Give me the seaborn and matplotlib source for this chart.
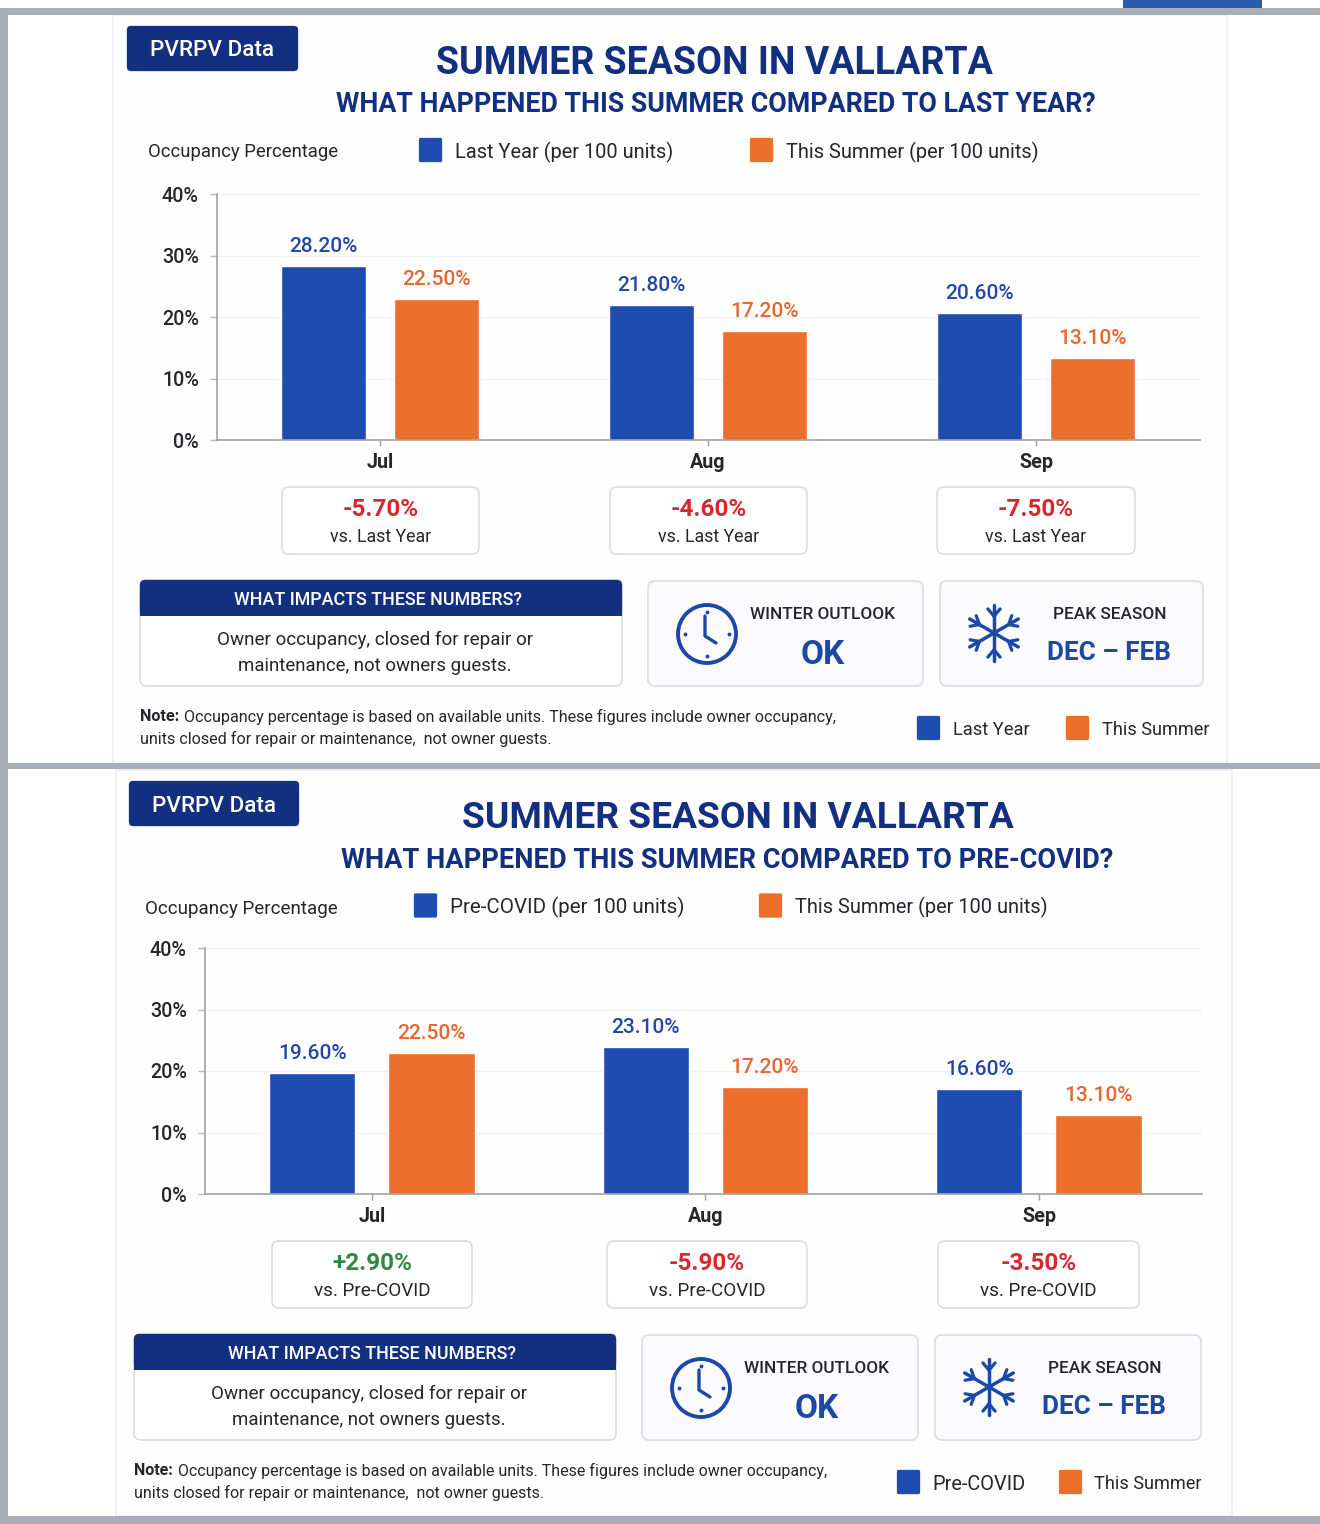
import matplotlib
matplotlib.use("Agg")
import matplotlib.pyplot as plt
from matplotlib.patches import Rectangle, FancyBboxPatch, Circle
import numpy as np
import pandas as pd
import seaborn as sns

months = ["Jul", "Aug", "Sep"]
# printed values
last_year = [28.2, 21.8, 20.6]
pre_covid = [19.6, 23.1, 16.6]
this_summer = [22.5, 17.2, 13.1]
# bar heights as drawn in the picture (the source's bars sit a little off its own labels)
last_year_bars = [28.3, 22.0, 20.65]
summer_bars_top = [22.9, 17.7, 13.3]
pre_covid_bars = [19.7, 23.9, 17.05]
summer_bars_bottom = [22.9, 17.4, 12.85]
deltas_last_year = ["-5.70%", "-4.60%", "-7.50%"]
deltas_pre_covid = ["+2.90%", "-5.90%", "-3.50%"]
y_ticks = [0, 10, 20, 30, 40]

TITLE = "SUMMER SEASON IN VALLARTA"
IMPACT_HEAD = "WHAT IMPACTS THESE NUMBERS?"
IMPACT_1 = "Owner occupancy, closed for repair or"
IMPACT_2 = "maintenance, not owners guests."
NOTE_1 = "Occupancy percentage is based on available units. These figures include owner occupancy,"
NOTE_2 = "units closed for repair or maintenance,  not owner guests."

BLUE = "#1f4cb0"
ORANGE = "#ec6e2b"
NAVY = "#12307f"
LBL_BLUE = "#2446a8"
LBL_ORANGE = "#e8662c"
RED = "#d8282e"
GREEN = "#2f8a3e"
DARK = "#24262b"
ICON = "#1c48a8"
GREY = "#a9aeb8"
EDGE = "#dcdfe5"
FONT = "Roboto"

W, H = 1320, 1524
sns.set_theme(style="white")
plt.rcParams["font.family"] = [FONT, "DejaVu Sans"]
fig = plt.figure(figsize=(W / 100, H / 100), dpi=100, facecolor="white")
bg = fig.add_axes([0, 0, 1, 1])
bg.set_xlim(0, W)
bg.set_ylim(H, 0)
bg.axis("off")


def txt(x, y, s, size, color=DARK, weight="normal", ha="center"):
    bg.text(x, y, s, fontsize=size, color=color, fontweight=weight, ha=ha, va="center_baseline", zorder=6)


def rbox(x0, y0, x1, y1, face="white", edge=EDGE, r=7, lw=1.3, z=2):
    bg.add_patch(FancyBboxPatch((x0 + r, y0 + r), x1 - x0 - 2 * r, y1 - y0 - 2 * r,
                                boxstyle=f"round,pad={r},rounding_size={r}", fc=face, ec=edge, lw=lw, zorder=z))


def clock(cx, cy, r):
    bg.add_patch(Circle((cx, cy), r, fc="none", ec=ICON, lw=2.8, zorder=5))
    for a in range(0, 360, 90):
        t = np.deg2rad(a)
        bg.plot([cx + (r - 7) * np.cos(t)], [cy + (r - 7) * np.sin(t)], "o", ms=1.8, color=ICON, zorder=5)
    bg.plot([cx - 2, cx - 2, cx + 9], [cy - 18, cy + 2, cy + 9], color=ICON, lw=2.4, zorder=5,
            solid_joinstyle="round", solid_capstyle="round")


def snowflake(cx, cy, r):
    for a in (90, 30, -30):
        t = np.deg2rad(a)
        dx, dy = np.cos(t), np.sin(t)
        bg.plot([cx - r * dx, cx + r * dx], [cy - r * dy, cy + r * dy], color=ICON, lw=2.5, zorder=5)
        for sign in (1, -1):
            bx, by = cx + sign * 0.6 * r * dx, cy + sign * 0.6 * r * dy
            for off in (40, -40):
                u = t + np.deg2rad(off)
                bg.plot([bx, bx + sign * 0.34 * r * np.cos(u)], [by, by + sign * 0.34 * r * np.sin(u)],
                        color=ICON, lw=2.3, zorder=5)


def panel(p, ref_name, ref_vals, ref_bars, summer_bars, deltas, sub):
    # card
    bg.add_patch(Rectangle((p["card"][0], p["card"][2]), p["card"][1] - p["card"][0], p["card"][3] - p["card"][2],
                           fc="#fefefe", ec="#eceef1", lw=1.1, zorder=1))
    # badge and headings
    bx = p["badge"]
    rbox(bx[0], bx[1], bx[2], bx[3], face=NAVY, edge=NAVY, r=4, lw=0.2)
    txt((bx[0] + bx[2]) / 2, (bx[1] + bx[3]) / 2, "PVRPV Data", 16.2, "white", "medium")
    txt(p["title"][0], p["title"][1], TITLE, p["title_size"], NAVY, "bold")
    txt(p["sub"][0], p["sub"][1], sub, p["sub_size"], NAVY, "bold")

    # top legend
    txt(p["occ"][0], p["occ"][1], "Occupancy Percentage", p["occ_size"], ha="left")
    for sx, lab, col, size in ((p["leg"][0], f"{ref_name} (per 100 units)", BLUE, p["leg_size"]),
                               (p["leg"][1], "This Summer (per 100 units)", ORANGE, 14.4)):
        rbox(sx, p["leg_y"] - 12, sx + 23, p["leg_y"] + 12, face=col, edge=col, r=1.5, lw=0.2, z=3)
        txt(sx + 36, p["leg_y"], lab, size, ha="left")

    # chart
    x0, x1, y0, y1 = p["axes"]
    ax = fig.add_axes([x0 / W, 1 - y1 / H, (x1 - x0) / W, (y1 - y0) / H], facecolor="none", zorder=3)
    df = pd.DataFrame({
        "month": months * 2,
        "series": [ref_name] * 3 + ["This Summer"] * 3,
        "value": list(ref_bars) + list(summer_bars),
    })
    sns.barplot(data=df, x="month", y="value", hue="series", hue_order=[ref_name, "This Summer"],
                palette=[BLUE, ORANGE], width=p["width"], gap=p["gap"], saturation=1, legend=False, ax=ax,
                errorbar=None)
    ax.set_ylim(0, 40)
    ax.set_xlim(*p["xlim"])
    ax.set_yticks(y_ticks)
    ax.set_yticklabels([f"{v}%" for v in y_ticks], fontsize=14.2, color=DARK, fontweight="medium",
                       va="center_baseline")
    ax.set_xticklabels(months, fontsize=14.2, color=DARK, fontweight="bold")
    ax.set_xlabel("")
    ax.set_ylabel("")
    ax.yaxis.grid(True, color="#eff0f2", lw=1)
    ax.xaxis.grid(False)
    ax.set_axisbelow(True)
    sns.despine(ax=ax)
    for s in ("left", "bottom"):
        ax.spines[s].set_color("#9ea2a8")
        ax.spines[s].set_linewidth(1.2)
    ax.tick_params(axis="y", length=5, width=1, color="#b5b8bd", pad=8, left=True)
    ax.tick_params(axis="x", length=4, width=1, color="#9ea2a8", pad=5, bottom=True)
    for cont, vals, col in zip(ax.containers, (ref_vals, this_summer), (LBL_BLUE, LBL_ORANGE)):
        ax.bar_label(cont, labels=[f"{v:.2f}%" for v in vals], padding=7, color=col, fontsize=15,
                     fontweight="medium")

    # delta boxes
    for m, d, (a, b) in zip(months, deltas, p["boxes"]):
        rbox(a, p["box_y"], b, p["box_y"] + 67)
        txt((a + b) / 2, p["box_y"] + 20.5, d, 17.5, GREEN if d.startswith("+") else RED, "bold")
        txt((a + b) / 2, p["box_y"] + 48, f"vs. {ref_name}", p["vs_size"])

    # impact
    a, b, t = p["impact"]
    rbox(a, t, b, t + 106)
    rbox(a, t, b, t + 35, face=NAVY, edge=NAVY, r=5, lw=0.2, z=3)
    bg.add_patch(Rectangle((a, t + 18), b - a, 17.5, fc=NAVY, ec="none", zorder=3))
    txt((a + b) / 2 - 3, t + 18, IMPACT_HEAD, 12.9, "white", "medium")
    txt((a + b) / 2 - 6, t + 58, IMPACT_1, 13.6)
    txt((a + b) / 2 - 6, t + 84, IMPACT_2, 13.4)

    # winter
    a, b, t = p["winter"]
    rbox(a, t, b, t + 105, face="#fbfbfe")
    clock(a + 59, t + 53, 29)
    txt(a + 175, t + 32, "WINTER OUTLOOK", 12.45, weight="medium")
    txt(a + 175, t + 70, "OK", 24, ICON, "bold")

    # peak
    a, b, t = p["peak"]
    rbox(a, t, b, t + 105, face="#fbfbfe")
    snowflake(a + 54, t + 52, 28)
    txt(a + 170, t + 32, "PEAK SEASON", 12.4, weight="medium")
    txt(a + 169, t + 70, "DEC – FEB", 18.8, ICON, "bold")

    # note
    nx, ny = p["note"]
    txt(nx, ny, "Note:", p["note_size"], weight="bold", ha="left")
    txt(nx + 44, ny, NOTE_1, p["note_size"], ha="left")
    txt(nx, ny + 22, NOTE_2, p["note_size"], ha="left")

    # bottom legend
    for sx, lab, col, size in ((p["bleg"][0], ref_name, BLUE, p["bleg_size"]),
                               (p["bleg"][1], "This Summer", ORANGE, 13.05)):
        rbox(sx, p["bleg_y"] - 12, sx + 23, p["bleg_y"] + 12, face=col, edge=col, r=1.5, lw=0.2, z=3)
        txt(sx + 36 - p["bleg_nudge"], p["bleg_y"], lab, size, ha="left")


P1 = dict(card=(113, 1227, 15, 763), badge=(127, 26, 298, 71), title=(714, 59.5), sub=(716, 102), occ=(148, 150),
          title_size=27, sub_size=19.25, occ_size=13.3, leg_size=14.4, vs_size=12.8, note_size=11.6,
          bleg_size=13.2, bleg_nudge=0,
          leg=(419, 750), leg_y=150, axes=(217, 1200, 194, 440), xlim=(-0.497, 2.5), width=0.689, gap=0.248,
          boxes=[(282, 479), (610, 807), (937, 1135)], box_y=487, impact=(140, 622, 580),
          winter=(648, 923, 581), peak=(940, 1203, 581), note=(140, 715), bleg=(917, 1066), bleg_y=728)
P2 = dict(card=(116, 1232, 770, 1516), badge=(129, 781, 299, 826), title=(738, 814.5), sub=(727, 858), occ=(145, 907),
          title_size=26.7, sub_size=19.6, occ_size=13.5, leg_size=14.8, vs_size=13.6, note_size=11.5,
          bleg_size=14.4, bleg_nudge=1,
          leg=(414, 759), leg_y=905.5, axes=(205, 1202, 948, 1194), xlim=(-0.5, 2.489), width=0.715, gap=0.277,
          boxes=[(272, 472), (607, 807), (938, 1139)], box_y=1241, impact=(134, 616, 1334),
          winter=(642, 918, 1335), peak=(935, 1201, 1335), note=(134, 1469), bleg=(897, 1059), bleg_y=1482)

# page furniture
for r in ((0, 8, W, 7), (0, 763, W, 6), (0, 1516, W, 8), (0, 8, 8, 1516)):
    bg.add_patch(Rectangle((r[0], r[1]), r[2], r[3], fc=GREY, ec="none", zorder=8))
bg.add_patch(Rectangle((1123, 0), 139, 8, fc="#2a5cab", ec="none", zorder=9))

panel(P1, "Last Year", last_year, last_year_bars, summer_bars_top, deltas_last_year,
      "WHAT HAPPENED THIS SUMMER COMPARED TO LAST YEAR?")
panel(P2, "Pre-COVID", pre_covid, pre_covid_bars, summer_bars_bottom, deltas_pre_covid,
      "WHAT HAPPENED THIS SUMMER COMPARED TO PRE-COVID?")

fig.savefig("out.png", dpi=100, facecolor="white")
